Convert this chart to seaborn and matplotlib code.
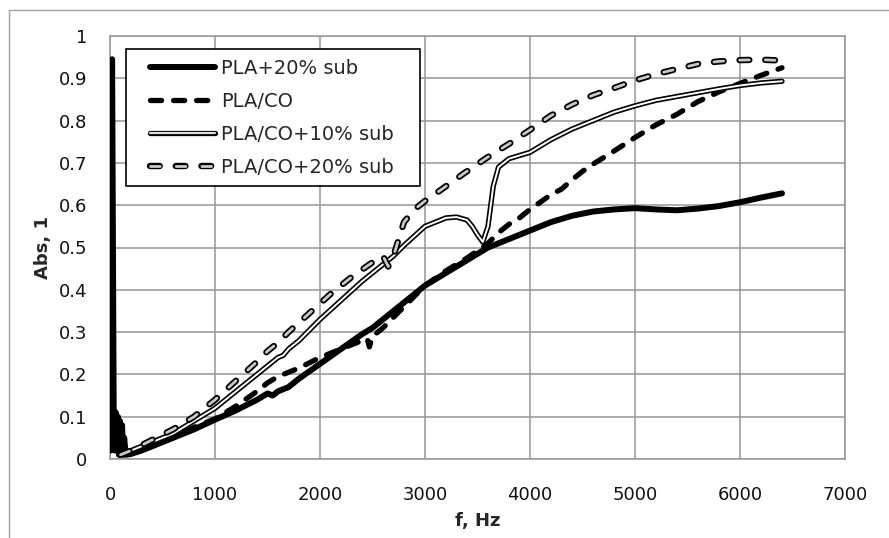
import matplotlib
matplotlib.use("Agg")
import matplotlib.pyplot as plt
import seaborn as sns
import pandas as pd
from matplotlib.lines import Line2D
from matplotlib.legend_handler import HandlerBase

# ---------------- data ----------------
f_pla20 = [5, 20, 35, 45, 55, 65, 75, 85, 95, 105, 115, 125, 135, 150, 200, 300, 450, 600, 800,
           1000, 1200, 1400, 1500, 1550, 1600, 1700, 1800, 2000, 2200, 2400, 2500, 2600, 2800,
           3000, 3200, 3400, 3600, 3800, 4000, 4200, 4400, 4600, 4800, 5000, 5200, 5400, 5600,
           5800, 6000, 6200, 6400]
a_pla20 = [0.02, 0.945, 0.12, 0.02, 0.11, 0.03, 0.10, 0.01, 0.09, 0.02, 0.08, 0.01, 0.05, 0.01,
           0.012, 0.02, 0.035, 0.05, 0.07, 0.093, 0.115, 0.14, 0.155, 0.15, 0.16, 0.17, 0.19,
           0.225, 0.26, 0.295, 0.31, 0.33, 0.37, 0.41, 0.44, 0.47, 0.50, 0.52, 0.54, 0.56, 0.575,
           0.585, 0.59, 0.593, 0.59, 0.588, 0.592, 0.598, 0.607, 0.618, 0.628]

f_placo = [100, 200, 400, 600, 800, 1000, 1200, 1400, 1500, 1600, 1800, 2000, 2200, 2400, 2450,
           2470, 2500, 2600, 2800, 3000, 3200, 3400, 3600, 3700, 3800, 3900, 4000, 4200, 4300,
           4400, 4500, 4600, 4800, 5000, 5200, 5400, 5600, 5800, 6000, 6200, 6400]
a_placo = [0.01, 0.015, 0.03, 0.05, 0.075, 0.095, 0.125, 0.16, 0.18, 0.195, 0.215, 0.24, 0.26,
           0.28, 0.285, 0.265, 0.29, 0.31, 0.36, 0.41, 0.445, 0.475, 0.51, 0.535, 0.555, 0.57,
           0.59, 0.625, 0.638, 0.66, 0.68, 0.697, 0.728, 0.76, 0.79, 0.815, 0.845, 0.868, 0.888,
           0.907, 0.925]

f_placo10 = [100, 200, 400, 600, 800, 1000, 1200, 1400, 1500, 1600, 1650, 1700, 1800, 2000, 2200,
             2400, 2600, 2700, 2800, 3000, 3200, 3300, 3400, 3450, 3500, 3550, 3600, 3650, 3700,
             3750, 3800, 4000, 4200, 4400, 4600, 4800, 5000, 5200, 5400, 5600, 5800, 6000, 6200,
             6400]
a_placo10 = [0.01, 0.02, 0.04, 0.06, 0.09, 0.12, 0.16, 0.2, 0.22, 0.24, 0.245, 0.26, 0.28, 0.33,
             0.375, 0.42, 0.46, 0.48, 0.505, 0.55, 0.57, 0.572, 0.565, 0.55, 0.53, 0.513, 0.55,
             0.645, 0.69, 0.70, 0.71, 0.725, 0.755, 0.78, 0.80, 0.82, 0.835, 0.848, 0.857, 0.866,
             0.875, 0.883, 0.889, 0.893]

f_placo20 = [100, 200, 400, 600, 800, 1000, 1200, 1400, 1500, 1600, 1700, 1900, 2100, 2300, 2500,
             2600, 2650, 2700, 2750, 2800, 2900, 3000, 3150, 3375, 3600, 3800, 4000, 4200, 4400,
             4600, 4800, 5000, 5200, 5400, 5600, 5800, 6000, 6200, 6400]
a_placo20 = [0.01, 0.02, 0.045, 0.07, 0.1, 0.14, 0.185, 0.23, 0.255, 0.275, 0.3, 0.345, 0.39,
             0.43, 0.465, 0.48, 0.455, 0.48, 0.52, 0.56, 0.59, 0.61, 0.636, 0.676, 0.714, 0.745,
             0.778, 0.812, 0.838, 0.86, 0.877, 0.895, 0.91, 0.922, 0.934, 0.94, 0.943, 0.944,
             0.942]

labels = ["PLA+20% sub", "PLA/CO", "PLA/CO+10% sub", "PLA/CO+20% sub"]
x_ticks = [0, 1000, 2000, 3000, 4000, 5000, 6000, 7000]
y_ticks = [0, 0.1, 0.2, 0.3, 0.4, 0.5, 0.6, 0.7, 0.8, 0.9, 1]
y_tick_labels = ["0", "0.1", "0.2", "0.3", "0.4", "0.5", "0.6", "0.7", "0.8", "0.9", "1"]

# ---------------- style ----------------
sns.set_style("white")
plt.rcParams["font.family"] = ["DejaVu Sans"]
plt.rcParams["lines.scale_dashes"] = False

fig = plt.figure(figsize=(8.89, 5.38), dpi=100)
ax = fig.add_axes([110 / 889, 1 - 459 / 538, 735 / 889, 423 / 538])

grid_c = "#969696"

def df(f, a):
    return pd.DataFrame({"f": f, "a": a})

dash_b = (0, (8.0, 8.6))
dash_g = (0, (7.0, 11.5))

# PLA+20% sub : thick solid black
sns.lineplot(data=df(f_pla20, a_pla20), x="f", y="a", ax=ax, color="black", lw=4.3,
             estimator=None, sort=False, solid_capstyle="round", solid_joinstyle="round", zorder=3)
# PLA/CO : thick dashed black
sns.lineplot(data=df(f_placo, a_placo), x="f", y="a", ax=ax, color="black", lw=3.8,
             estimator=None, sort=False, linestyle=dash_b, dash_capstyle="round", zorder=4)
# PLA/CO+10% sub : double line
sns.lineplot(data=df(f_placo10, a_placo10), x="f", y="a", ax=ax, color="black", lw=3.8,
             estimator=None, sort=False, solid_capstyle="round", zorder=5)
sns.lineplot(data=df(f_placo10, a_placo10), x="f", y="a", ax=ax, color="white", lw=1.4,
             estimator=None, sort=False, solid_capstyle="round", zorder=6)
# PLA/CO+20% sub : dashed double line
sns.lineplot(data=df(f_placo20, a_placo20), x="f", y="a", ax=ax, color="black", lw=4.6,
             estimator=None, sort=False, linestyle=dash_g, dash_capstyle="round", zorder=7)
sns.lineplot(data=df(f_placo20, a_placo20), x="f", y="a", ax=ax, color="#c8c8c8", lw=2.0,
             estimator=None, sort=False, linestyle=dash_g, dash_capstyle="round", zorder=8)

# ---------------- axes ----------------
ax.set_xlim(0, 7000)
ax.set_ylim(0, 1)
ax.set_xticks(x_ticks)
ax.set_xticklabels([str(t) for t in x_ticks])
ax.set_yticks(y_ticks)
ax.set_yticklabels(y_tick_labels)
ax.grid(True, color=grid_c, lw=1.1)
ax.set_axisbelow(True)
for s in ax.spines.values():
    s.set_color(grid_c)
    s.set_linewidth(1.1)
ax.tick_params(axis="both", direction="out", length=4.5, width=1.1, color=grid_c,
               labelsize=13, labelcolor="#111111")
ax.tick_params(axis="x", pad=15)
ax.tick_params(axis="y", pad=12)
ax.set_xlabel("f, Hz", fontsize=13, fontweight="bold", labelpad=6)
ax.set_ylabel("Abs, 1", fontsize=13, fontweight="bold", labelpad=5)

# ---------------- legend ----------------
class ShiftedHandler(HandlerBase):
    def __init__(self, protos, offset):
        super().__init__()
        self.protos = protos
        self.offset = offset

    def create_artists(self, legend, orig_handle, xdescent, ydescent, width, height,
                       fontsize, trans):
        y = height / 2 - ydescent
        arts = []
        for p in self.protos:
            ln = Line2D([self.offset - xdescent, width - xdescent], [y, y])
            ln.update_from(p)
            ln.set_transform(trans)
            arts.append(ln)
        return arts

p1 = [Line2D([], [], color="black", lw=4.3, solid_capstyle="round")]
p2 = [Line2D([], [], color="black", lw=3.8, linestyle=dash_b, dash_capstyle="round")]
p3 = [Line2D([], [], color="black", lw=3.8, solid_capstyle="round"),
      Line2D([], [], color="#dddddd", lw=1.6, solid_capstyle="round")]
p4 = [Line2D([], [], color="black", lw=4.6, linestyle=dash_g, dash_capstyle="round"),
      Line2D([], [], color="#c8c8c8", lw=2.0, linestyle=dash_g, dash_capstyle="round")]
handles = [Line2D([], []) for _ in range(4)]
hmap = {h: ShiftedHandler(p, 10.5) for h, p in zip(handles, [p1, p2, p3, p4])}

x0 = (126 - 110) / 735
w = (420 - 126) / 735
y_top = (459 - 49) / 423
leg = ax.legend(handles, labels, handler_map=hmap, loc="upper left",
                bbox_to_anchor=(x0, y_top - 0.3, w, 0.3), mode="expand",
                borderaxespad=0, fontsize=14, frameon=True, fancybox=False,
                edgecolor="black", framealpha=1, handlelength=4.1, handletextpad=0.3,
                borderpad=0.5, labelspacing=0.72)
leg.get_frame().set_linewidth(1.2)
leg.set_zorder(10)

# outer chart-area border
fig.add_artist(Line2D([9 / 889, 9 / 889], [0, 1 - 10 / 538], transform=fig.transFigure,
                      color="#a0a0a0", lw=1.0))
fig.add_artist(Line2D([9 / 889, 1], [1 - 10 / 538, 1 - 10 / 538], transform=fig.transFigure,
                      color="#a0a0a0", lw=1.0))

fig.savefig("out.png", dpi=100)
